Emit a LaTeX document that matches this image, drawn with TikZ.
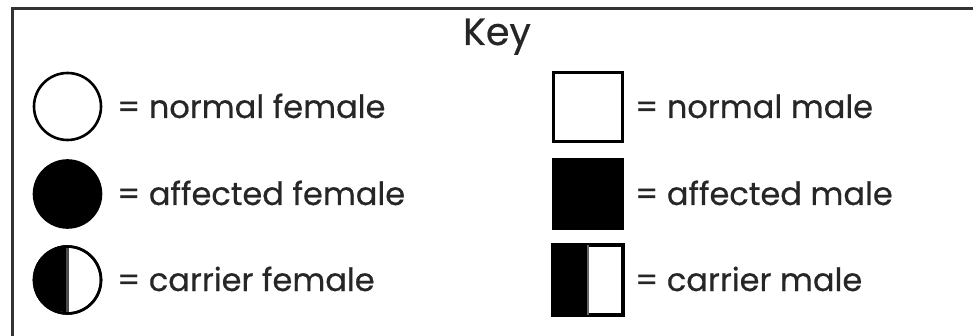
\documentclass[tikz,border=0pt]{standalone}
\usepackage{fontspec}
\setmainfont{Poppins}
\newfontface\lblfont{Poppins}[FakeBold=0.5]
\begin{document}
\begin{tikzpicture}[x=1pt,y=-1pt,
  sym/.style={draw=black,line width=2.6pt},
  lab/.style={anchor=base west,inner sep=0pt,font=\lblfont\fontsize{32}{32}\selectfont,text=black!85},
  title/.style={anchor=base,inner sep=0pt,font=\lblfont\fontsize{38}{38}\selectfont,text=black!85}]
\useasboundingbox (0,0) rectangle (973,336);
\begin{scope}
\clip (0,0) rectangle (973,336);
\draw[line width=3pt,draw=black!80] (12,9) rectangle (1000,360);
\end{scope}
\node[title] (key) at (497,45) {Key};
% females
\node[circle,sym,minimum size=67pt,inner sep=0pt] (nf) at (67.5,106.5) {};
\node[circle,sym,fill=black,minimum size=67pt,inner sep=0pt] (af) at (67.5,194) {};
\node[circle,sym,minimum size=67pt,inner sep=0pt] (cf) at (67.5,280) {};
\fill[black] (cf.north) arc[start angle=90,end angle=270,radius=33.5pt] -- cycle;
\draw[line width=2.6pt,draw=black!70] (cf.north) -- (cf.south);
\draw[sym] (cf.center) circle[radius=33.5pt];
\node[lab] (nft) at (117,118) {= normal female};
\node[lab] (aft) at (117,205) {= affected female};
\node[lab] (cft) at (117,291) {= carrier female};
% males
\node[rectangle,sym,minimum size=69pt,inner sep=0pt] (nm) at (588,107) {};
\node[rectangle,sym,fill=black,minimum size=69pt,inner sep=0pt] (am) at (588,194) {};
\node[rectangle,sym,minimum size=69pt,inner sep=0pt] (cm) at (588,280) {};
\fill[black] (cm.north west) rectangle (cm.south);
\draw[line width=2pt,draw=black!60] (cm.north) -- (cm.south);
\draw[sym] (cm.north west) rectangle (cm.south east);
\node[lab] (nmt) at (635,118) {= normal male};
\node[lab] (amt) at (635,205) {= affected male};
\node[lab] (cmt) at (635,291) {= carrier male};
\end{tikzpicture}
\end{document}
